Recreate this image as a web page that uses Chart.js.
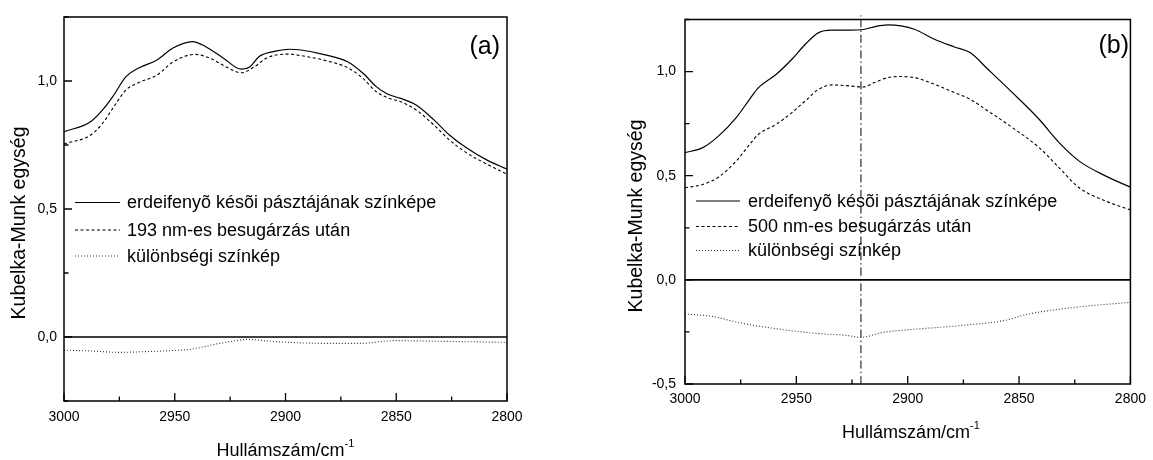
<!DOCTYPE html>
<html>
<head>
<meta charset="utf-8">
<script src="https://cdn.jsdelivr.net/npm/chart.js@4.4.0/dist/chart.umd.min.js"></script>
<style>
  html, body { margin: 0; padding: 0; background: #fff; }
  body { width: 1153px; height: 460px; position: relative; overflow: hidden; }
  .panel { position: absolute; top: 0; height: 460px; }
  #wrapA { left: 0; width: 560px; }
  #wrapB { left: 600px; width: 553px; }
</style>
</head>
<body>
<div class="panel" id="wrapA"><canvas id="chartA"></canvas></div>
<div class="panel" id="wrapB"><canvas id="chartB"></canvas></div>
<script>
// ---- panel (a) data ----
const wnA = [3000, 2988, 2982, 2978, 2972, 2966, 2958, 2951, 2942, 2936, 2928, 2920, 2916, 2912, 2906, 2898, 2893, 2883, 2872, 2865, 2859, 2854, 2848, 2841, 2833, 2826, 2818, 2809, 2800];
const spectrumA = [0.802, 0.841, 0.893, 0.939, 1.017, 1.052, 1.082, 1.128, 1.154, 1.134, 1.089, 1.046, 1.056, 1.095, 1.114, 1.124, 1.121, 1.104, 1.075, 1.030, 0.978, 0.949, 0.932, 0.906, 0.848, 0.789, 0.737, 0.691, 0.656];
const wnIrradA = [3000, 2988, 2982, 2978, 2972, 2966, 2958, 2951, 2941, 2934, 2927, 2920, 2914, 2908, 2898, 2893, 2883, 2872, 2865, 2859, 2854, 2848, 2841, 2833, 2826, 2818, 2809, 2800];
const irradA = [0.754, 0.789, 0.841, 0.893, 0.965, 0.995, 1.023, 1.073, 1.104, 1.089, 1.056, 1.032, 1.056, 1.092, 1.105, 1.099, 1.082, 1.052, 1.010, 0.958, 0.935, 0.919, 0.887, 0.828, 0.770, 0.718, 0.675, 0.636];
const wnDiffA = [3000, 2987, 2975, 2963, 2951, 2942, 2931, 2922, 2917, 2908, 2896, 2881, 2866, 2857, 2851, 2836, 2821, 2800];
const diffA = [-0.051, -0.055, -0.060, -0.057, -0.053, -0.047, -0.027, -0.014, -0.009, -0.016, -0.022, -0.025, -0.025, -0.018, -0.014, -0.016, -0.018, -0.021];
const legendA = ['erdeifenyõ késõi pásztájának színképe', '193 nm-es besugárzás után', 'különbségi színkép'];

// ---- panel (b) data ----
const wnB = [3000, 2992, 2985, 2977, 2971, 2967, 2959, 2952, 2946, 2940, 2934, 2926, 2920, 2915, 2909, 2903, 2897, 2888, 2879, 2872, 2864, 2853, 2841, 2832, 2823, 2811, 2800];
const spectrumB = [0.611, 0.635, 0.690, 0.779, 0.867, 0.923, 0.987, 1.059, 1.131, 1.187, 1.199, 1.199, 1.202, 1.215, 1.224, 1.219, 1.203, 1.155, 1.118, 1.091, 1.011, 0.899, 0.771, 0.659, 0.570, 0.498, 0.445];
const irradB = [0.442, 0.458, 0.493, 0.570, 0.650, 0.699, 0.747, 0.803, 0.859, 0.915, 0.936, 0.931, 0.926, 0.947, 0.971, 0.976, 0.971, 0.939, 0.899, 0.867, 0.811, 0.731, 0.635, 0.538, 0.442, 0.378, 0.336];
const wnDiffB = [3000, 2988, 2975, 2958, 2940, 2928, 2921, 2911, 2899, 2877, 2856, 2847, 2825, 2800];
const diffB = [-0.164, -0.175, -0.207, -0.236, -0.258, -0.266, -0.276, -0.252, -0.239, -0.220, -0.194, -0.167, -0.132, -0.108];
const legendB = ['erdeifenyõ késõi pásztájának színképe', '500 nm-es besugárzás után', 'különbségi színkép'];
const markerB = 2921;
const markerTopB = 1.27;   // the dash-dot line pokes just above the frame

// ---- shared ----
const xRange = [2800, 3000];
const yMax = 1.25;
const xTickStep = 25;
const yTickStep = 0.25;
const yTitle = 'Kubelka-Munk egység';
const xTitle = 'Hullámszám/cm';
const xTitleSup = '-1';

const FONT = '"Liberation Sans", Arial, Helvetica, sans-serif';

const pts = (xs, ys) => xs.map((x, i) => ({ x: x, y: ys[i] }));
const isMajorY = v => Math.abs(v * 2 - Math.round(v * 2)) < 1e-6;

const framePlugin = {
  id: 'frame',
  afterDatasetsDraw(chart, args, opts) {
    const { ctx, chartArea: a, scales: { x, y } } = chart;
    ctx.save();
    ctx.strokeStyle = '#000';
    ctx.lineWidth = 1.3;
    ctx.beginPath();
    x.ticks.forEach(t => {
      const px = x.getPixelForValue(t.value);
      const len = t.value % 50 === 0 ? 8 : 4.5;
      ctx.moveTo(px, a.bottom);
      ctx.lineTo(px, a.bottom - len);
    });
    y.ticks.forEach(t => {
      const py = y.getPixelForValue(t.value);
      const len = isMajorY(t.value) ? 8 : 4.5;
      ctx.moveTo(a.left, py);
      ctx.lineTo(a.left + len, py);
    });
    ctx.stroke();
    ctx.lineWidth = 1.5;
    ctx.strokeRect(a.left, a.top, a.right - a.left, a.bottom - a.top);
    ctx.restore();
  },
  afterDraw(chart, args, opts) {
    const { ctx } = chart;
    ctx.save();
    ctx.fillStyle = '#000';

    // y title
    ctx.save();
    ctx.translate(opts.yTitlePos[0], opts.yTitlePos[1]);
    ctx.rotate(-Math.PI / 2);
    ctx.font = '19.5px ' + FONT;
    ctx.textAlign = 'center';
    ctx.textBaseline = 'middle';
    ctx.fillText(yTitle, 0, 0);
    ctx.restore();

    // x title with superscript
    ctx.font = '18px ' + FONT;
    const wMain = ctx.measureText(xTitle).width;
    ctx.font = '11px ' + FONT;
    const wSup = ctx.measureText(xTitleSup).width;
    const x0 = opts.xTitlePos[0] - (wMain + wSup) / 2;
    ctx.textAlign = 'left';
    ctx.textBaseline = 'alphabetic';
    ctx.font = '18px ' + FONT;
    ctx.fillText(xTitle, x0, opts.xTitlePos[1]);
    ctx.font = '11px ' + FONT;
    ctx.fillText(xTitleSup, x0 + wMain, opts.xTitlePos[1] - 9);

    // panel tag
    ctx.font = '25px ' + FONT;
    ctx.textAlign = 'right';
    ctx.textBaseline = 'middle';
    ctx.fillText(opts.tag, opts.tagPos[0], opts.tagPos[1]);

    // legend
    const lg = opts.legend;
    lg.labels.forEach((label, i) => {
      const ds = chart.data.datasets[i];
      const yy = lg.rows[i];
      ctx.save();
      ctx.strokeStyle = ds.borderColor;
      ctx.lineWidth = ds.borderWidth;
      ctx.setLineDash(ds.borderDash || []);
      ctx.beginPath();
      ctx.moveTo(lg.x1, yy);
      ctx.lineTo(lg.x2, yy);
      ctx.stroke();
      ctx.restore();
      ctx.font = '18px ' + FONT;
      ctx.textAlign = 'left';
      ctx.textBaseline = 'middle';
      ctx.fillStyle = '#000';
      ctx.fillText(label, lg.textX, yy + 1);
    });
    ctx.restore();
  }
};

function makePanel(id, p) {
  const datasets = [
    { label: p.legend.labels[0], data: pts(p.wn, p.spectrum), borderColor: '#000', borderWidth: 1.2 },
    { label: p.legend.labels[1], data: pts(p.wnIrrad, p.irrad), borderColor: '#000', borderWidth: 1.1, borderDash: [3, 2.5] },
    { label: p.legend.labels[2], data: pts(p.wnDiff, p.diff), borderColor: '#333', borderWidth: 1.1, borderDash: [1, 2] },
    { label: 'zero', data: pts(xRange, [0, 0]), borderColor: '#000', borderWidth: 1.6, cubicInterpolationMode: 'default', tension: 0 }
  ];
  if (p.marker !== undefined) {
    datasets.push({
      label: 'marker', data: pts([p.marker, p.marker], [p.yMin, p.markerTop]),
      borderColor: '#000', borderWidth: 1, borderDash: [8, 3, 1.5, 3], tension: 0,
      clip: { left: 0, right: 0, bottom: 0, top: false }
    });
  }
  datasets.forEach(d => {
    d.pointRadius = 0;
    d.fill = false;
    if (d.cubicInterpolationMode === undefined) d.cubicInterpolationMode = 'monotone';
  });

  return new Chart(document.getElementById(id), {
    type: 'line',
    data: { datasets: datasets },
    options: {
      responsive: true,
      maintainAspectRatio: false,
      animation: false,
      events: [],
      layout: { padding: { top: p.area.top, right: p.area.right, left: 0, bottom: 0 } },
      plugins: {
        legend: { display: false },
        tooltip: { enabled: false },
        frame: p.frame
      },
      scales: {
        x: {
          type: 'linear',
          reverse: true,
          min: xRange[0],
          max: xRange[1],
          afterFit(s) { s.height = p.area.xHeight; },
          grid: { display: false, drawTicks: false },
          border: { display: false },
          ticks: {
            stepSize: xTickStep,
            autoSkip: false,
            maxRotation: 0,
            padding: p.area.xPad,
            color: '#000',
            font: { family: FONT, size: 14 },
            callback: v => (v % 50 === 0 ? String(v) : '')
          }
        },
        y: {
          type: 'linear',
          min: p.yMin,
          max: yMax,
          afterFit(s) { s.width = p.area.yWidth; },
          grid: { display: false, drawTicks: false },
          border: { display: false },
          ticks: {
            stepSize: yTickStep,
            autoSkip: false,
            padding: p.area.yPad,
            color: '#000',
            font: { family: FONT, size: 14 },
            callback: v => (isMajorY(v) ? v.toFixed(1).replace('.', ',') : '')
          }
        }
      }
    },
    plugins: [framePlugin]
  });
}

makePanel('chartA', {
  wn: wnA, spectrum: spectrumA, wnIrrad: wnIrradA, irrad: irradA, wnDiff: wnDiffA, diff: diffA,
  yMin: -0.25,
  area: { top: 17, right: 53, xHeight: 59, yWidth: 64, xPad: 8, yPad: 7 },
  legend: { labels: legendA },
  frame: {
    yTitlePos: [20, 223],
    xTitlePos: [285.5, 456],
    tag: '(a)', tagPos: [500, 47],
    legend: { labels: legendA, rows: [202.5, 230, 256], x1: 75, x2: 120, textX: 127 }
  }
});

makePanel('chartB', {
  wn: wnB, spectrum: spectrumB, wnIrrad: wnB, irrad: irradB, wnDiff: wnDiffB, diff: diffB,
  yMin: -0.5, marker: markerB, markerTop: markerTopB,
  area: { top: 19.5, right: 16, xHeight: 76, yWidth: 85, xPad: 7, yPad: 9 },
  legend: { labels: legendB },
  frame: {
    yTitlePos: [37, 216],
    xTitlePos: [311, 438],
    tag: '(b)', tagPos: [529, 46.5],
    legend: { labels: legendB, rows: [201, 226.5, 250.5], x1: 96, x2: 140, textX: 148 }
  }
});
</script>
</body>
</html>
